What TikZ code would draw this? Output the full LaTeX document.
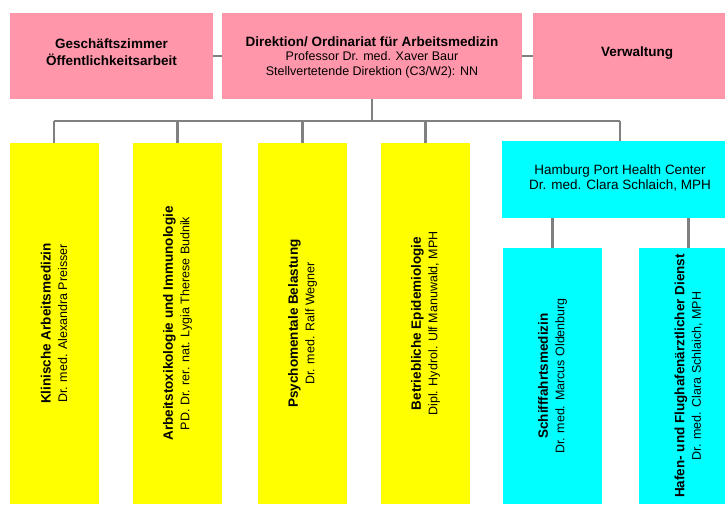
\documentclass[tikz,border=0pt]{standalone}
\usepackage{fontspec}
\setmainfont{Liberation Sans}
\definecolor{pinkbox}{HTML}{FF96AA}
\definecolor{yelbox}{HTML}{FFFF00}
\definecolor{cyabox}{HTML}{00FFFF}
\definecolor{linegray}{HTML}{808080}
\newcommand\mytitle[1]{{\fontsize{13.5}{16}\selectfont\bfseries #1}}
\begin{document}
\begin{tikzpicture}[x=1pt,y=1pt,
  box/.style={draw=none, inner sep=0pt, anchor=center, align=center},
  topbox/.style={box, fill=pinkbox, minimum height=86pt},
  ybx/.style={box, fill=yelbox, minimum width=89pt, minimum height=361pt},
  cbx/.style={box, fill=cyabox, minimum width=99pt, minimum height=256pt},
  htext/.style={align=center, inner sep=0pt, font=\fontsize{12.5}{16.5}\selectfont},
  vtext/.style={rotate=90, align=center, inner sep=0pt, font=\fontsize{12.5}{16.5}\selectfont},
  conn/.style={draw=linegray, line width=2.1pt}
]
\useasboundingbox (0,0) rectangle (725,504);
% top row
\node[topbox, minimum width=203pt] (g) at (111.5,448) {};
\node[topbox, minimum width=300pt] (d) at (372,448) {};
\node[topbox, minimum width=208pt] (v) at (637,448) {};
\node[htext] (gt) at ([yshift=3.5pt]g.center) {\mytitle{Geschäftszimmer}\\[0.5pt]\mytitle{Öffentlichkeitsarbeit}};
\node[htext, font=\fontsize{12.5}{14.5}\selectfont] (dt) at ([yshift=-1pt]d.center) {\mytitle{Direktion/ Ordinariat für Arbeitsmedizin}\\Professor Dr. med. Xaver Baur\\Stellvertetende Direktion (C3/W2): NN};
\node[htext] (vt) at ([yshift=3pt]v.center) {\mytitle{Verwaltung}};
% yellow column boxes
\node[ybx] (k) at (54,180.5) {};
\node[ybx] (t) at (177.5,180.5) {};
\node[ybx] (p) at (302.5,180.5) {};
\node[ybx] (b) at (425.5,180.5) {};
\node[vtext] (kt) at (k.center) {\mytitle{Klinische Arbeitsmedizin}\\Dr. med. Alexandra Preisser};
\node[vtext] (tt) at (t.center) {\mytitle{Arbeitstoxikologie und Immunologie}\\PD. Dr. rer. nat. Lygia Therese Budnik};
\node[vtext] (pt) at (p.center) {\mytitle{Psychomentale Belastung}\\Dr. med. Ralf Wegner};
\node[vtext] (bt) at (b.center) {\mytitle{Betriebliche Epidemiologie}\\Dipl. Hydrol. Ulf Manuwald, MPH};
% Hamburg Port Health Center
\node[box, fill=cyabox, minimum width=236pt, minimum height=77pt] (h) at (620,324.5) {};
\node[htext, font=\fontsize{13.5}{15.5}\selectfont] (ht) at ([yshift=1.5pt]h.center) {Hamburg Port Health Center\\Dr. med. Clara Schlaich, MPH};
\node[cbx] (s) at (552.5,128) {};
\node[cbx] (f) at (688.5,128) {};
\node[vtext] (st) at (s.center) {\mytitle{Schifffahrtsmedizin}\\Dr. med. Marcus Oldenburg};
\node[vtext] (ft) at (f.center) {\mytitle{Hafen- und Flughafenärztlicher Dienst}\\Dr. med. Clara Schlaich, MPH};
% connectors
\coordinate (bus) at (0,383);
\draw[conn] (g.east) -- (d.west);
\draw[conn] (d.east) -- (v.west);
\draw[conn] (d.south) -- (d.south |- bus);
\draw[conn] (k.north |- bus) -- (h.north |- bus);
\draw[conn] (k.north |- bus) -- (k.north);
\draw[conn] (t.north |- bus) -- (t.north);
\draw[conn] (p.north |- bus) -- (p.north);
\draw[conn] (b.north |- bus) -- (b.north);
\draw[conn] (h.north |- bus) -- (h.north);
\draw[conn] (s.north |- h.south) -- (s.north);
\draw[conn] (f.north |- h.south) -- (f.north);
\end{tikzpicture}
\end{document}
